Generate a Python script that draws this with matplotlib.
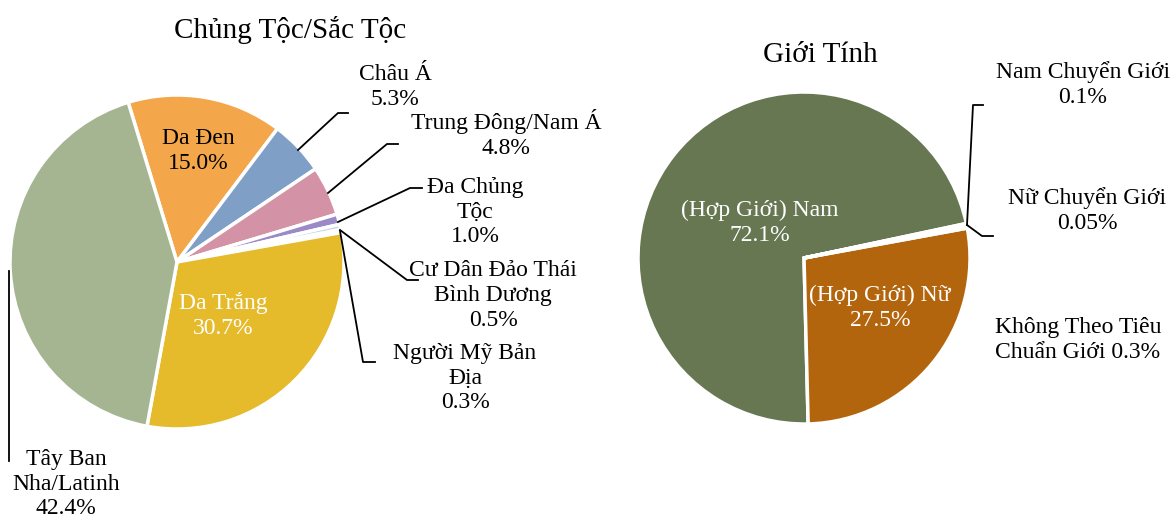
import matplotlib.pyplot as plt

# Dữ liệu: chủng tộc / sắc tộc
race_labels = ['Da Đen', 'Châu Á', 'Trung Đông/Nam Á', 'Đa Chủng\nTộc',
               'Cư Dân Đảo Thái\nBình Dương', 'Người Mỹ Bản\nĐịa', 'Da Trắng',
               'Tây Ban\nNha/Latinh']
race_values = [15.0, 5.3, 4.8, 1.0, 0.5, 0.3, 30.7, 42.4]
race_colors = ['#F3A64A', '#7F9FC6', '#D392A5', '#9B89C8', '#C9D6E6',
               '#4E6A8E', '#E5BA2B', '#A5B592']

# Dữ liệu: giới tính
gender_labels = ['(Hợp Giới) Nam', '(Hợp Giới) Nữ', 'Không Theo Tiêu\nChuẩn Giới',
                 'Nữ Chuyển Giới', 'Nam Chuyển Giới']
gender_values = [72.1, 27.5, 0.3, 0.05, 0.1]
gender_pct = ['72.1%', '27.5%', '0.3%', '0.05%', '0.1%']
gender_colors = ['#667752', '#B3650E', '#8A8A8A', '#C9A86A', '#4E5E3E']

W, H = 1173, 515
fig = plt.figure(figsize=(W / 100, H / 100), dpi=100)
ax = fig.add_axes([0, 0, 1, 1])

font = 'Liberation Serif'
fs = 17
ls = 1.25


def y(v):
    # chuyển tọa độ pixel (từ trên xuống) sang tọa độ trục
    return H - v


# Biểu đồ tròn bên trái
ax.pie(race_values, colors=race_colors, startangle=107, counterclock=False,
       center=(177, y(262)), radius=167,
       wedgeprops=dict(edgecolor='white', linewidth=2.5))

# Biểu đồ tròn bên phải
ax.pie(gender_values, colors=gender_colors, startangle=12, counterclock=True,
       explode=[0, 0.035, 0, 0, 0], center=(804, y(258)), radius=166,
       wedgeprops=dict(edgecolor='white', linewidth=2.5))

# pie() đặt lại giới hạn trục, nên đặt sau
ax.set_aspect('auto')
ax.set_xlim(0, W)
ax.set_ylim(0, H)
ax.axis('off')

ax.text(290, y(30), 'Chủng Tộc/Sắc Tộc', ha='center', va='center',
        fontsize=21, family=font)

# nhãn bên trong
ax.text(198, y(151), f'{race_labels[0]}\n{race_values[0]:.1f}%', ha='center',
        va='center', fontsize=fs, family=font, linespacing=ls)
ax.text(223, y(316), f'{race_labels[6]}\n{race_values[6]:.1f}%', ha='center',
        va='center', fontsize=fs, family=font, color='white', linespacing=ls)

# nhãn bên ngoài với đường dẫn
outside = [
    (1, (395, 87), [(298, 150), (338, 113), (348, 113)]),
    (2, (506, 134), [(328, 193), (387, 144), (398, 144)]),
    (3, (475, 212), [(338, 222), (410, 188), (422, 188)]),
    (4, (493, 296), [(340, 230), (407, 280), (418, 280)]),
    (5, (465, 378), [(340, 231), (363, 362), (375, 362)]),
    (7, (66, 484), [(9, 271), (9, 461)]),
]
for i, (tx, ty), pts in outside:
    ax.text(tx, y(ty), f'{race_labels[i]}\n{race_values[i]:.1f}%', ha='center',
            va='center', fontsize=fs, family=font, linespacing=ls)
    ax.plot([p[0] for p in pts], [y(p[1]) for p in pts], color='black', lw=1.3)

ax.text(820, y(55), 'Giới Tính', ha='center', va='center',
        fontsize=21, family=font)

ax.text(760, y(223), f'{gender_labels[0]}\n{gender_pct[0]}', ha='center',
        va='center', fontsize=fs, family=font, color='white', linespacing=ls)
ax.text(880, y(308), f'{gender_labels[1]}\n{gender_pct[1]}', ha='center',
        va='center', fontsize=fs, family=font, color='white', linespacing=ls)
ax.text(1083, y(85), f'{gender_labels[4]}\n{gender_pct[4]}', ha='center',
        va='center', fontsize=fs, family=font, linespacing=ls)
ax.text(1087, y(211), f'{gender_labels[3]}\n{gender_pct[3]}', ha='center',
        va='center', fontsize=fs, family=font, linespacing=ls)
ax.text(1078, y(340), f'{gender_labels[2]} {gender_pct[2]}', ha='center',
        va='center', fontsize=fs, family=font, linespacing=ls)

ax.plot([967, 973, 983], [y(225), y(105), y(105)], color='black', lw=1.3)
ax.plot([967, 982, 993], [y(225), y(236), y(236)], color='black', lw=1.3)

fig.savefig('out.png', dpi=100)
